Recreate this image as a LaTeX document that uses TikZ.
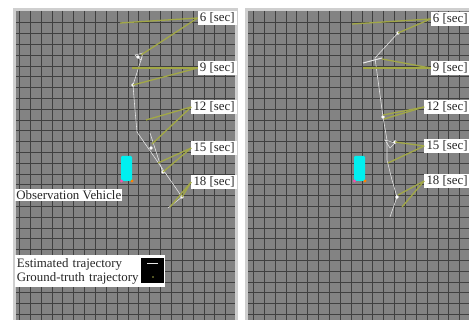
\documentclass[tikz,border=0pt]{standalone}
\usepackage{fontspec}
\setmainfont{Liberation Serif}
\usetikzlibrary{positioning}

\definecolor{cellgray}{HTML}{838383}
\definecolor{framegray}{HTML}{CFCFCF}
\definecolor{linedark}{HTML}{404040}
\definecolor{gtolive}{HTML}{A2A846}
\definecolor{estwhite}{HTML}{E6E6E6}
\definecolor{vehcyan}{HTML}{00F0F0}

\tikzset{
  tag/.style={fill=white, inner sep=1.8pt, text=black!85, font=\fontsize{11}{12}\selectfont},
  gtline/.style={draw=gtolive, line width=1.1pt},
  estline/.style={draw=estwhite, line width=0.5pt},
  estdot/.style={circle, fill=white, inner sep=0pt, minimum size=3pt},
  gridrule/.style={draw=linedark, line width=0.7pt}
}

\begin{document}
\begin{tikzpicture}[x=0.03cm, y=-0.03cm]
  \useasboundingbox (0,0) rectangle (469,320);
  \fill[white] (0,0) rectangle (469,320);

  % panels
  \fill[framegray] (13,8) rectangle (238,320);
  \fill[cellgray] (16,11) rectangle (235,320);
  \fill[framegray] (245,8) rectangle (469,320);
  \fill[cellgray] (248,11) rectangle (469,320);

  % grid
  \foreach \k in {0,...,19} {
    \draw[gridrule] ({19.5+10.85*\k},11) -- ({19.5+10.85*\k},320);
    \draw[gridrule] ({253.5+10.85*\k},11) -- ({253.5+10.85*\k},320);
  }
  \foreach \k in {1,...,28} {
    \draw[gridrule] (16,{12+10.8*\k}) -- (235,{12+10.8*\k});
    \draw[gridrule] (248,{12+10.8*\k}) -- (469,{12+10.8*\k});
  }

  % left panel: trajectory points
  \coordinate (a6g) at (120,23);
  \coordinate (a6e) at (141,55);
  \coordinate (a9g) at (132,68);
  \coordinate (a9e) at (133,85);
  \coordinate (a12g) at (146,120);
  \coordinate (a12e) at (152,144);
  \coordinate (a15g) at (158,163);
  \coordinate (a15e) at (163,172);
  \coordinate (a18g) at (182,197);
  \coordinate (a18e) at (170,207);

  \draw[estline] (135,55) -- (143,53) -- (141,60) -- cycle;
  \draw[estline] (142,57) -- (133,85) -- (135,110) -- (137,132) -- (182,197) -- (168,208);
  \draw[estline] (150,133) -- (163,173);
  \node[estdot] (d1) at (138,57) {};
  \node[estdot] (d2) at (133,85) {};
  \node[estdot] (d3) at (151,148) {};
  \node[estdot] (d4) at (163,172) {};
  \node[estdot] (d5) at (182,197) {};

  % left panel: time tags
  \node[tag, anchor=east] (la6) at (237,18) {6 [sec]};
  \node[tag, anchor=east] (la9) at (237,68) {9 [sec]};
  \node[tag, anchor=east] (la12) at (237,107) {12 [sec]};
  \node[tag, anchor=east] (la15) at (237,148) {15 [sec]};
  \node[tag, anchor=east] (la18) at (237,182) {18 [sec]};

  \draw[gtline] (la6.west) -- (a6g);
  \draw[gtline] (la6.west) -- (a6e);
  \draw[gtline] (la9.west) -- (a9g);
  \draw[gtline] (la9.west) -- (a9e);
  \draw[gtline] (la12.west) -- (a12g);
  \draw[gtline] (la12.west) -- (a12e);
  \draw[gtline] (la15.west) -- (a15g);
  \draw[gtline] (la15.west) -- (a15e);
  \draw[gtline] (la18.west) -- (a18g);
  \draw[gtline] (la18.west) -- (a18e);

  % left panel: vehicle and legend
  \fill[vehcyan, rounded corners=1pt] (121,156) rectangle (132,181);
  \fill[magenta!70] (121.5,181) circle (1.6);
  \fill[orange] (132,181) circle (1.6);
  \node[tag, anchor=west, inner sep=1pt] (obs) at (15,195) {Observation Vehicle};

  \node[tag, anchor=north west, align=left, inner sep=1pt, minimum width=4.5cm, minimum height=0.96cm, text width=4.4cm] (legend) at (15,255) {Estimated trajectory\\Ground-truth trajectory};
  \node[fill=black, anchor=north west, minimum width=0.69cm, minimum height=0.75cm, inner sep=0pt] (key) at (141,258) {};
  \coordinate (keya) at (147,263);
  \coordinate (keyb) at (158,263);
  \draw[estline, line width=0.8pt] (keya) -- (keyb);
  \fill[gtolive] (153,277) circle (0.9);

  % right panel: trajectory points
  \coordinate (b6g) at (352,24);
  \coordinate (b6e) at (398,33);
  \coordinate (b9g) at (382,59);
  \coordinate (b9e) at (363,68);
  \coordinate (b12g) at (383,115);
  \coordinate (b12e) at (384,119);
  \coordinate (b15g) at (395,142);
  \coordinate (b15e) at (388,163);
  \coordinate (b18g) at (398,195);
  \coordinate (b18e) at (402,207);

  \draw[estline] (398,33) -- (375,58) -- (383,117) -- (387,140) -- (387,160) -- (392,180) -- (397,197) -- (390,217);
  \draw[estline, line width=0.9pt] (363,63) -- (382,58);
  \draw[estline] (385,140) -- (395,143) -- (390,148) -- cycle;
  \node[estdot] (e1) at (398,33) {};
  \node[estdot] (e2) at (383,117) {};
  \node[estdot] (e3) at (395,142) {};
  \node[estdot] (e4) at (397,197) {};

  % right panel: time tags
  \node[tag, anchor=east] (lb6) at (470,19) {6 [sec]};
  \node[tag, anchor=east] (lb9) at (470,68) {9 [sec]};
  \node[tag, anchor=east] (lb12) at (470,107) {12 [sec]};
  \node[tag, anchor=east] (lb15) at (470,146) {15 [sec]};
  \node[tag, anchor=east] (lb18) at (470,181) {18 [sec]};

  \draw[gtline] (lb6.west) -- (b6g);
  \draw[gtline] (lb6.west) -- (b6e);
  \draw[gtline] (lb9.west) -- (b9g);
  \draw[gtline] (lb9.west) -- (b9e);
  \draw[gtline] (lb12.west) -- (b12g);
  \draw[gtline] (lb12.west) -- (b12e);
  \draw[gtline] (lb15.west) -- (b15g);
  \draw[gtline] (lb15.west) -- (b15e);
  \draw[gtline] (lb18.west) -- (b18g);
  \draw[gtline] (lb18.west) -- (b18e);

  % right panel: vehicle
  \fill[vehcyan, rounded corners=1pt] (354,156) rectangle (365,181);
  \fill[magenta!70] (354.5,181) circle (1.6);
  \fill[orange] (365,181) circle (1.6);
\end{tikzpicture}
\end{document}
